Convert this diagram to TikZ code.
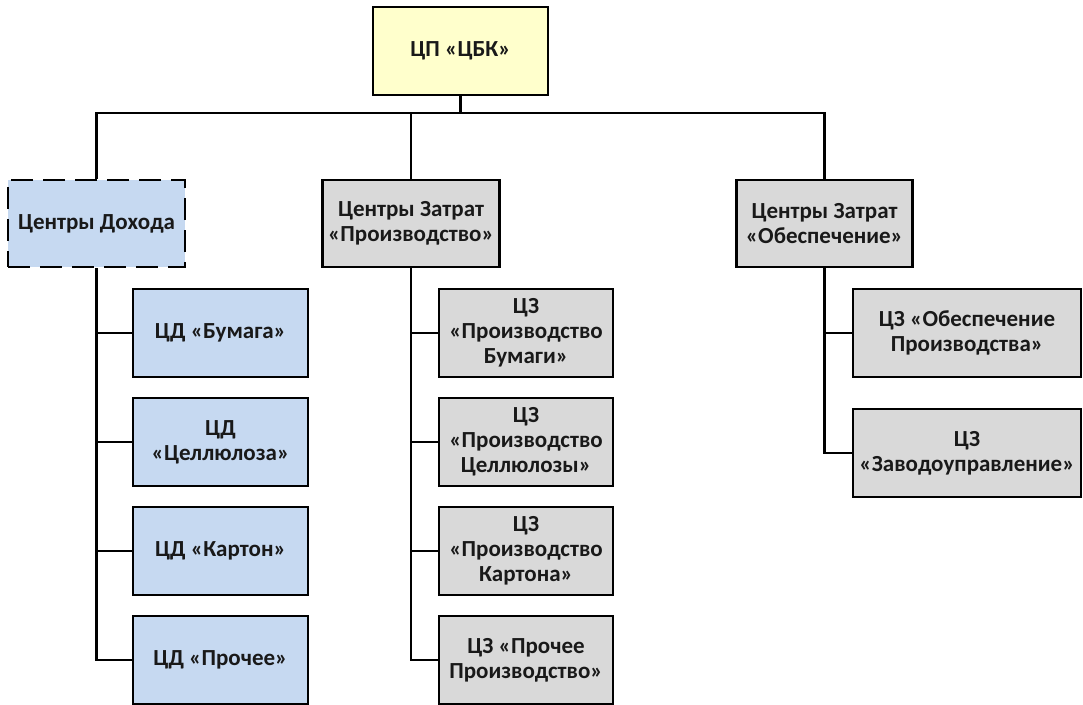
\documentclass[tikz,border=0pt]{standalone}
\usepackage{fontspec}
\setmainfont{Carlito}
\begin{document}
\begin{tikzpicture}[x=1pt,y=-1pt,
  box/.style={draw=black, line width=2.7pt, align=center, inner sep=1pt,
    font=\bfseries\fontsize{23}{25}\selectfont, text=black!90},
  head/.style={box, fill=yellowfill, minimum width=175pt, minimum height=88pt},
  income/.style={box, fill=bluefill, minimum width=175pt, minimum height=88pt},
  cost/.style={box, fill=grayfill, minimum width=174pt, minimum height=88pt},
  link/.style={draw=black, line width=2.7pt}]
\definecolor{yellowfill}{HTML}{FFFFCC}
\definecolor{bluefill}{HTML}{C6D9F1}
\definecolor{grayfill}{HTML}{D9D9D9}
\useasboundingbox (0,0) rectangle (1083,704);

% root
\node[head] (root) at (460.5,51) {ЦП «ЦБК»};

% second level
\node[income, minimum width=177pt, minimum height=87pt, dash pattern=on 22pt off 10pt] (inc) at (96.5,223.5) {Центры Дохода};
\node[cost, minimum width=177pt, minimum height=87pt] (prod) at (411,223.5) {Центры Затрат\\«Производство»};
\node[cost, minimum width=176pt, minimum height=87pt] (supp) at (824.5,223.5) {Центры Затрат\\«Обеспечение»};

% income centres
\node[income] (d1) at (220.5,333) {ЦД «Бумага»};
\node[income] (d2) at (220.5,442) {ЦД\\«Целлюлоза»};
\node[income] (d3) at (220.5,551) {ЦД «Картон»};
\node[income] (d4) at (220.5,660) {ЦД «Прочее»};

% production cost centres
\node[cost] (p1) at (526,333) {ЦЗ\\«Производство\\Бумаги»};
\node[cost] (p2) at (526,442) {ЦЗ\\«Производство\\Целлюлозы»};
\node[cost] (p3) at (526,551) {ЦЗ\\«Производство\\Картона»};
\node[cost] (p4) at (526,660) {ЦЗ «Прочее\\Производство»};

% support cost centres
\node[cost, minimum width=228pt] (s1) at (967,333) {ЦЗ «Обеспечение\\Производства»};
\node[cost, minimum width=228pt] (s2) at (967,453) {ЦЗ\\«Заводоуправление»};

% top bus
\coordinate (bus) at (0,113);
\draw[link] (root.south) -- (root.south |- bus);
\draw[link] (inc.north) -- (inc.north |- bus) -- (supp.north |- bus) -- (supp.north);
\draw[link] (prod.north) -- (prod.north |- bus);

% branches
\draw[link] (inc.south) |- (d4.west);
\foreach \c in {d1,d2,d3} \draw[link] (inc.south |- \c.west) -- (\c.west);
\draw[link] (prod.south) |- (p4.west);
\foreach \c in {p1,p2,p3} \draw[link] (prod.south |- \c.west) -- (\c.west);
\draw[link] (supp.south) |- (s2.west);
\draw[link] (supp.south |- s1.west) -- (s1.west);
\end{tikzpicture}
\end{document}
